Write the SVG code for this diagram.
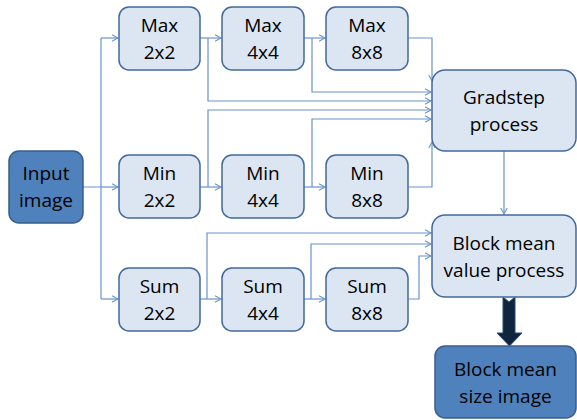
<svg xmlns="http://www.w3.org/2000/svg" width="577" height="420" viewBox="0 0 577 420">
<defs>
<style>
.box{fill:#dce6f2;stroke:#41699c;stroke-width:1.5}
.dark{fill:#4f81bd;stroke:#385d8a;stroke-width:1.5}
.t{font-family:"Open Sans","Liberation Sans",sans-serif;font-size:19px;fill:#000;text-anchor:middle}
.c{fill:none;stroke:#6a93cc;stroke-width:1.2}
</style>
<marker id="a" markerWidth="8" markerHeight="8" refX="7" refY="4" orient="auto" markerUnits="userSpaceOnUse">
<path d="M1,0.8 L7,4 L1,7.2" fill="none" stroke="#6a93cc" stroke-width="1.1"/>
</marker>
</defs>
<rect width="577" height="420" fill="#fff"/>
<g id="connectors">
<path class="c" d="M83,187 H101 M101,38 V299"/>
<path class="c" d="M101,38 H118" marker-end="url(#a)"/>
<path class="c" d="M101,187 H118" marker-end="url(#a)"/>
<path class="c" d="M101,299 H118" marker-end="url(#a)"/>
<path class="c" d="M200,38 H221" marker-end="url(#a)"/>
<path class="c" d="M208,38 V101 H431" marker-end="url(#a)"/>
<path class="c" d="M304,38 H325" marker-end="url(#a)"/>
<path class="c" d="M312,38 V92 H431" marker-end="url(#a)"/>
<path class="c" d="M408,38 H432 V81" marker-end="url(#a)"/>
<path class="c" d="M200,187 H221" marker-end="url(#a)"/>
<path class="c" d="M208,187 V110 H431" marker-end="url(#a)"/>
<path class="c" d="M304,187 H325" marker-end="url(#a)"/>
<path class="c" d="M312,187 V119 H431" marker-end="url(#a)"/>
<path class="c" d="M408,187 H432 V142" marker-end="url(#a)"/>
<path class="c" d="M504,151 V214" marker-end="url(#a)"/>
<path class="c" d="M200,299 H221" marker-end="url(#a)"/>
<path class="c" d="M207,299 V233 H431" marker-end="url(#a)"/>
<path class="c" d="M304,299 H325" marker-end="url(#a)"/>
<path class="c" d="M311,299 V244 H431" marker-end="url(#a)"/>
<path class="c" d="M408,299 H419 V256 H431" marker-end="url(#a)"/>
<polygon points="503,297 509,302 515,297 515,333 522,333 509.5,346 497,333 503,333" fill="#10243e" stroke="#2a4a7a" stroke-width="1"/>
</g>
<g id="input"><rect class="dark" x="9" y="151" width="74" height="72" rx="10"/><text class="t" x="46" y="180">Input</text><text class="t" x="46" y="207">image</text></g>
<g id="max2"><rect class="box" x="119" y="7" width="81" height="63" rx="10"/><text class="t" x="159.5" y="32">Max</text><text class="t" x="159.5" y="59">2x2</text></g>
<g id="max4"><rect class="box" x="222" y="7" width="82" height="63" rx="10"/><text class="t" x="263" y="32">Max</text><text class="t" x="263" y="59">4x4</text></g>
<g id="max8"><rect class="box" x="326" y="7" width="82" height="63" rx="10"/><text class="t" x="367" y="32">Max</text><text class="t" x="367" y="59">8x8</text></g>
<g id="min2"><rect class="box" x="119" y="155" width="81" height="63" rx="10"/><text class="t" x="159.5" y="180">Min</text><text class="t" x="159.5" y="207">2x2</text></g>
<g id="min4"><rect class="box" x="222" y="155" width="82" height="63" rx="10"/><text class="t" x="263" y="180">Min</text><text class="t" x="263" y="207">4x4</text></g>
<g id="min8"><rect class="box" x="326" y="155" width="82" height="63" rx="10"/><text class="t" x="367" y="180">Min</text><text class="t" x="367" y="207">8x8</text></g>
<g id="sum2"><rect class="box" x="119" y="268" width="81" height="63" rx="10"/><text class="t" x="159.5" y="293">Sum</text><text class="t" x="159.5" y="320">2x2</text></g>
<g id="sum4"><rect class="box" x="222" y="268" width="82" height="63" rx="10"/><text class="t" x="263" y="293">Sum</text><text class="t" x="263" y="320">4x4</text></g>
<g id="sum8"><rect class="box" x="326" y="268" width="82" height="63" rx="10"/><text class="t" x="367" y="293">Sum</text><text class="t" x="367" y="320">8x8</text></g>
<g id="gradstep"><rect class="box" x="432" y="70" width="144" height="81" rx="13"/><text class="t" x="504" y="104">Gradstep</text><text class="t" x="504" y="131">process</text></g>
<g id="blockmean"><rect class="box" x="432" y="215" width="144" height="82" rx="13"/><text class="t" x="504" y="250">Block mean</text><text class="t" x="504" y="277">value process</text></g>
<g id="output"><rect class="dark" x="435" y="346" width="141" height="72" rx="10"/><text class="t" x="505.5" y="376">Block mean</text><text class="t" x="505.5" y="403">size image</text></g>
</svg>
